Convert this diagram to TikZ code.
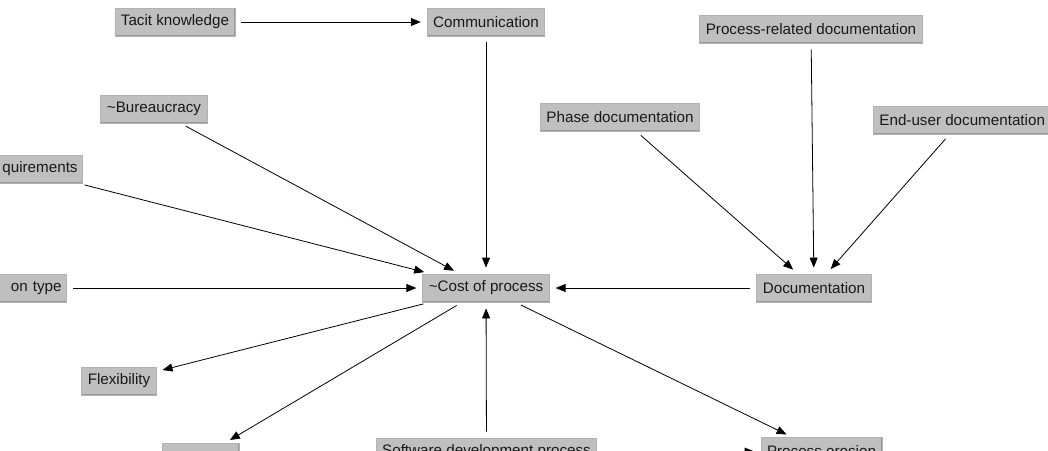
\documentclass[tikz,border=0pt]{standalone}
\usepackage{fontspec}
\setmainfont{Liberation Sans}
\usetikzlibrary{arrows.meta,calc,positioning}

\begin{document}
\begin{tikzpicture}[x=1pt, y=-1pt]
    \tikzset{BoxStyle/.style = {draw = black!30,
        line width = 0.8pt,
        fill  = black!25,
        text  = black!90,
        font  = \fontsize{15.2}{17}\selectfont,
        inner xsep = 6pt,
        minimum height = 28pt,
        path picture = {
          \draw[white!85!black, line width=1.2pt] (path picture bounding box.south west) |- (path picture bounding box.north east);
          \draw[black!40, line width=1.2pt] (path picture bounding box.south west) -| (path picture bounding box.north east);}},
      CutStyle/.style = {BoxStyle, anchor=east, text width=110pt, align=right, inner xsep=5pt},
      EdgeStyle/.style = {-{Triangle[length=10pt,width=8pt]},
        line width = 0.8pt,
        shorten > = 6pt,
        shorten < = 6pt}}
    \useasboundingbox (0,0) rectangle (1048,450);
    \clip (0,0) rectangle (1048,450);
    % boxes
    \node[BoxStyle] (Tacit) at (175,22) {Tacit knowledge};
    \node[BoxStyle] (Comm) at (486,22) {Communication};
    \node[BoxStyle] (Bureau) at (154,109) {\textasciitilde Bureaucracy};
    \node[CutStyle] (Req) at (83,169) {quirements};
    \node[CutStyle] (OnType) at (67,288) {on type};
    \node[BoxStyle] (Cost) at (486,288) {\textasciitilde Cost of process};
    \node[BoxStyle] (ProcDoc) at (811,29) {Process-related documentation};
    \node[BoxStyle] (PhaseDoc) at (620,117) {Phase documentation};
    \node[BoxStyle, anchor=west] (EndUser) at (873,120) {End-user documentation};
    \node[BoxStyle] (Doc) at (814,288) {Documentation};
    \node[BoxStyle] (Flex) at (119,381) {Flexibility};
    \node[BoxStyle, minimum width=77pt] (Low) at (200.5,457.5) {};
    \node[BoxStyle] (SoftDev) at (486.5,452) {Software development process};
    \node[BoxStyle] (Erosion) at (821.5,451.5) {Process erosion};
    % edges
    \draw[EdgeStyle] (Tacit) -- (Comm);
    \draw[EdgeStyle] (Comm) -- (Cost);
    \draw[EdgeStyle] (Bureau) -- (Cost);
    \draw[EdgeStyle] (Req) -- (Cost);
    \draw[EdgeStyle] (OnType) -- (Cost);
    \draw[EdgeStyle] (Doc) -- (Cost);
    \draw[EdgeStyle] (ProcDoc) -- (Doc);
    \draw[EdgeStyle] (PhaseDoc) -- (Doc);
    \draw[EdgeStyle] (EndUser) -- (Doc);
    \draw[EdgeStyle] (Cost) -- (Flex);
    \draw[EdgeStyle] (Cost) -- (Low);
    \draw[EdgeStyle] (SoftDev) -- (Cost);
    \draw[EdgeStyle] (Cost) -- (Erosion);
    \draw[EdgeStyle] (SoftDev) -- (Erosion);
\end{tikzpicture}
\end{document}
